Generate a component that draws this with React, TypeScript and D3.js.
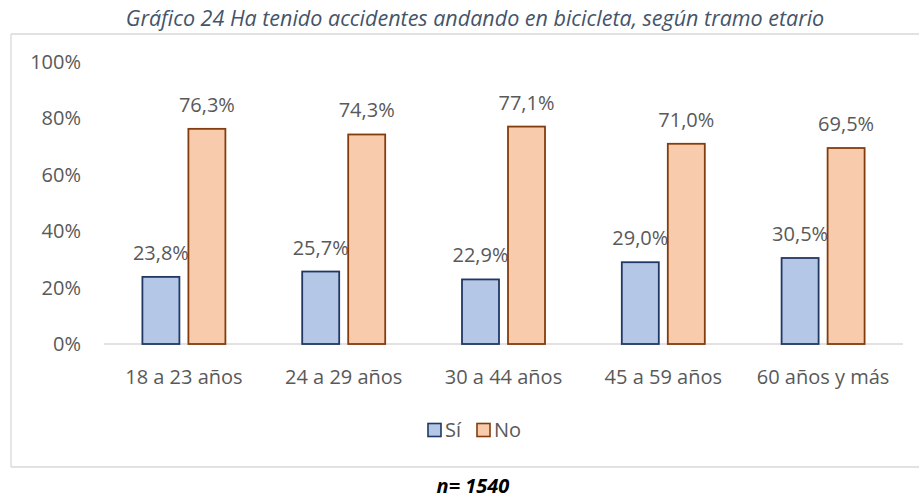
import React from "react";
import * as d3 from "d3";

const categories = ["18 a 23 años", "24 a 29 años", "30 a 44 años", "45 a 59 años", "60 años y más"];
const series = ["Sí", "No"];
const siValues = [0.238, 0.257, 0.229, 0.29, 0.305];
const noValues = [0.763, 0.743, 0.771, 0.71, 0.695];
const yTicks = [0, 0.2, 0.4, 0.6, 0.8, 1.0];
const title = "Gráfico 24 Ha tenido accidentes andando en bicicleta, según tramo etario";
const footnote = "n= 1540";

const W = 919;
const H = 500;
const fills: Record<string, string> = { "Sí": "#B4C7E7", "No": "#F8CBAD" };
const strokes: Record<string, string> = { "Sí": "#203864", "No": "#843C0C" };
const FONT = "'Open Sans', sans-serif";
const TXT = "#595959";
const FS = 20;

export default function App() {
  const x0 = d3.scaleBand<string>().domain(categories).range([104, 903]).paddingInner(0).paddingOuter(0);
  const x1 = d3.scaleBand<string>().domain(series).range([0, 83]).paddingInner(9 / 46);
  const y = d3.scaleLinear().domain([0, 1]).range([344, 62]);
  const fmt = (v: number) => (v * 100).toFixed(1).replace(".", ",") + "%";
  const values: Record<string, number[]> = { "Sí": siValues, "No": noValues };

  return (
    <svg width={W} height={H} style={{ position: "absolute", left: 0, top: 0, background: "#fff" }}>
      <text x={475} y={18} dy="0.35em" textAnchor="middle" fontFamily={FONT} fontStyle="italic" fontSize={21.5} fill="#44546A">
        {title}
      </text>
      {/* chart frame */}
      <line x1={11} x2={W + 2} y1={34} y2={34} stroke="#D9D9D9" strokeWidth={1.3} />
      <line x1={11} x2={W + 2} y1={467} y2={467} stroke="#D9D9D9" strokeWidth={1.3} />
      <line x1={11} x2={11} y1={34} y2={467} stroke="#D9D9D9" strokeWidth={1.3} />

      {yTicks.map((t) => (
        <text key={t} x={81} y={y(t)} dy="0.35em" textAnchor="end" fontFamily={FONT} fontSize={FS} fill={TXT}>
          {d3.format(".0%")(t)}
        </text>
      ))}

      <line x1={104} x2={903} y1={y(0)} y2={y(0)} stroke="#D9D9D9" strokeWidth={1.5} />

      {categories.map((c, i) => {
        const cx = x0(c)! + x0.bandwidth() / 2;
        const start = cx - 41.5;
        return (
          <g key={c}>
            {series.map((s) => {
              const v = values[s][i];
              const bx = start + x1(s)!;
              return (
                <g key={s}>
                  <rect x={bx} y={y(v)} width={x1.bandwidth()} height={y(0) - y(v)} fill={fills[s]} stroke={strokes[s]} strokeWidth={1.8} />
                  <text x={bx + x1.bandwidth() / 2} y={y(v) - 24} dy="0.35em" textAnchor="middle" fontFamily={FONT} fontSize={FS} fill={TXT}>
                    {fmt(v)}
                  </text>
                </g>
              );
            })}
            <text x={cx} y={377} dy="0.35em" textAnchor="middle" fontFamily={FONT} fontSize={FS} fill={TXT}>
              {c}
            </text>
          </g>
        );
      })}

      {/* legend */}
      {series.map((s, i) => {
        const lx = i === 0 ? 428 : 477;
        return (
          <g key={s}>
            <rect x={lx} y={423.5} width={13} height={13} fill={fills[s]} stroke={strokes[s]} strokeWidth={1.6} />
            <text x={lx + 17} y={430} dy="0.35em" fontFamily={FONT} fontSize={FS} fill={TXT}>
              {s}
            </text>
          </g>
        );
      })}

      <text x={473} y={486} dy="0.35em" textAnchor="middle" fontFamily={FONT} fontStyle="italic" fontWeight="bold" fontSize={20} fill="#000">
        {footnote}
      </text>
    </svg>
  );
}
